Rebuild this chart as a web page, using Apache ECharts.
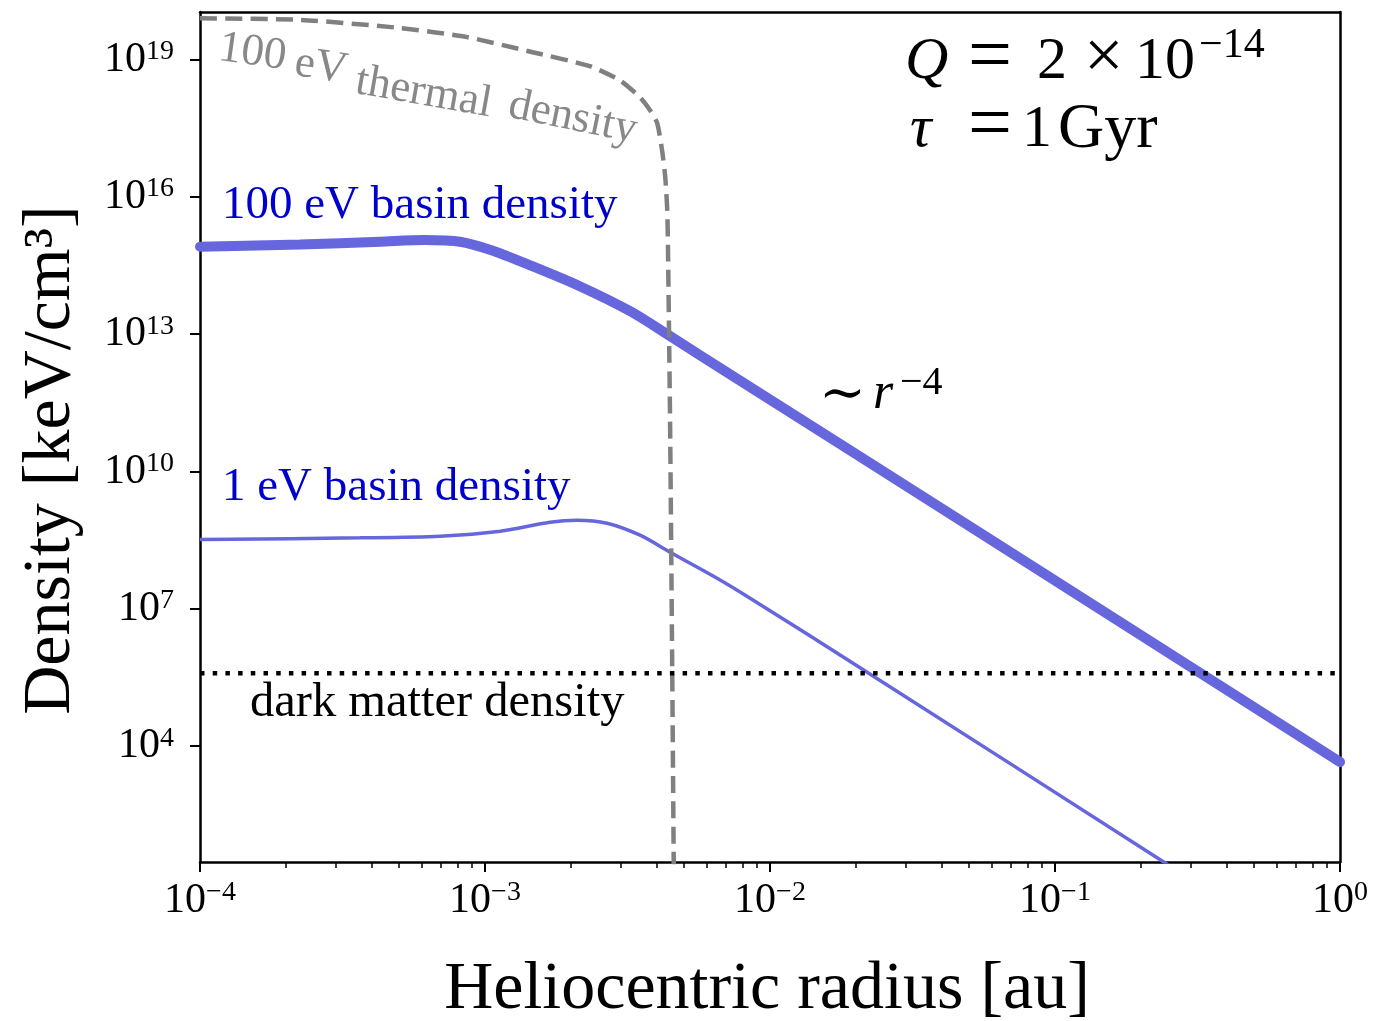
<!DOCTYPE html>
<html><head><meta charset="utf-8">
<script src="https://cdn.jsdelivr.net/npm/echarts@6/dist/echarts.min.js"></script>
<style>html,body{margin:0;padding:0;background:#fff}#c{width:1395px;height:1021px}</style>
</head><body><div id="c"></div>
<script>
// ---- data (radius in au, density in keV/cm^3) ----
const xTickExponents = [-4, -3, -2, -1, 0];
const yTickExponents = [4, 7, 10, 13, 16, 19];
const minorTickFactors = [2, 3, 4, 5, 6, 7, 8, 9];

const thermalRadius  = [1.0e-4, 2.24e-4, 5.04e-4, 8.65e-4, 1.47e-3, 2.33e-3, 2.98e-3, 3.50e-3, 3.79e-3, 4.02e-3, 4.18e-3, 4.29e-3, 4.36e-3, 4.39e-3, 4.46e-3, 4.53e-3, 4.60e-3];
const thermalDensity = [8.0e19, 7.4e19, 4.9e19, 3.1e19, 1.45e19, 7.2e18, 3.5e18, 1.5e18, 7.9e17, 4.1e17, 1.05e17, 2.7e16, 5.1e15, 4.8e14, 1.3e11, 2.1e6, 1.0e1];

const basin100Radius  = [1.0e-4, 2.24e-4, 4.28e-4, 6.15e-4, 8.17e-4, 1.04e-3, 1.44e-3, 2.15e-3, 3.23e-3, 4.36e-3, 5.68e-3, 6.41e-2, 1.0];
const basin100Density = [8.2e14, 9.1e14, 1.05e15, 1.14e15, 1.05e15, 7.0e14, 3.2e14, 1.12e14, 3.19e13, 1.0e13, 3.49e12, 2.43e8, 4.5e3];

const basin1Radius  = [1.0e-4, 3.64e-4, 6.95e-4, 1.13e-3, 1.69e-3, 2.10e-3, 2.68e-3, 3.50e-3, 4.46e-3, 6.52e-3, 8.30e-3, 2.22e-2, 0.2355, 0.264];
const basin1Density = [3.28e8, 3.56e8, 3.87e8, 4.98e8, 7.83e8, 8.67e8, 7.45e8, 4.07e8, 1.73e8, 4.68e7, 1.89e7, 3.94e5, 32.3, 20.5];

const darkMatterRadius = [1.0e-4, 1.0];
const darkMatterDensity = 3.94e5;

// ---- helpers ----
const L = Math.log10;
const toPts = (xs, ys) => xs.map((x, i) => [L(x), L(Array.isArray(ys) ? ys[i] : ys)]);
const minorTicks = [];
for (let e = -4; e < 0; e++) minorTickFactors.forEach(k => minorTicks.push(e + L(k)));

const FONT = '"Liberation Serif", "DejaVu Serif", serif';
const supFmt = v => { const e = Math.round(v); return '{b|10}{s|' + (e < 0 ? '\u2212' + (-e) : e) + '}'; };
const labelRich = {
  b: { fontSize: 42, fontFamily: FONT, color: '#000', lineHeight: 44 },
  s: { fontSize: 28, fontFamily: FONT, color: '#000', lineHeight: 26, verticalAlign: 'top' }
};

function txt(text, x, y, size, opts = {}) {
  return {
    type: 'text', x: x, y: y, rotation: opts.rot || 0, z: 100,
    style: {
      text: text, fill: opts.color || '#000',
      font: (opts.italic ? 'italic ' : '') + size + 'px ' + FONT,
      textAlign: opts.align || 'left', textVerticalAlign: 'middle',
      align: opts.align || 'left', verticalAlign: 'middle'
    }
  };
}
const deg = d => -d * Math.PI / 180;
const frameAxis = (pos) => ({
  type: 'value', min: pos === 'top' ? -4 : 1.47, max: pos === 'top' ? 0 : 20.04, position: pos,
  axisLine: { show: true, onZero: false, lineStyle: { color: '#000', width: 2.5 } },
  axisTick: { show: false }, axisLabel: { show: false }, splitLine: { show: false }
});

const chart = echarts.init(document.getElementById('c'), null, { renderer: 'canvas' });
chart.setOption({
  animation: false,
  backgroundColor: '#fff',
  grid: { left: 200, right: 55, top: 12, bottom: 159, show: false },
  xAxis: [{
    type: 'value', min: -4, max: 0, interval: 1, position: 'bottom',
    axisLine: { show: true, onZero: false, lineStyle: { color: '#000', width: 2.5 } },
    axisTick: { show: true, inside: false, length: 10, lineStyle: { color: '#000', width: 2 } },
    axisLabel: { show: true, margin: 17, formatter: supFmt, rich: labelRich },
    splitLine: { show: false }
  }, {
    type: 'value', min: -4, max: 0, position: 'bottom',
    axisLine: { show: false },
    axisTick: { show: true, inside: false, length: 6, customValues: minorTicks, lineStyle: { color: '#000', width: 1.5 } },
    axisLabel: { show: false },
    splitLine: { show: false }
  }, frameAxis('top')],
  yAxis: [{
    type: 'value', min: 1.47, max: 20.04, position: 'left',
    axisLine: { show: true, onZero: false, lineStyle: { color: '#000', width: 2.5 } },
    axisTick: { show: true, inside: false, length: 10, customValues: yTickExponents, lineStyle: { color: '#000', width: 2 } },
    axisLabel: { show: true, margin: 26, customValues: yTickExponents, formatter: supFmt, rich: labelRich, align: 'right' },
    splitLine: { show: false }
  }, frameAxis('right')],
  series: [{
    name: '100 eV basin density', type: 'line', showSymbol: false, smooth: 0.3,
    data: toPts(basin100Radius, basin100Density),
    lineStyle: { color: '#6666dd', width: 10, cap: 'round' }
  }, {
    name: '1 eV basin density', type: 'line', showSymbol: false, smooth: 0.3,
    data: toPts(basin1Radius, basin1Density),
    lineStyle: { color: '#6666dd', width: 3.5 }
  }, {
    name: '100 eV thermal density', type: 'line', showSymbol: false, smooth: 0.2,
    data: toPts(thermalRadius, thermalDensity),
    lineStyle: { color: '#808080', width: 4.5, type: [17, 8.3] }
  }, {
    name: 'dark matter density', type: 'line', showSymbol: false,
    data: toPts(darkMatterRadius, darkMatterDensity),
    lineStyle: { color: '#000', width: 4.5, type: [4.5, 8.2] }
  }],
  graphic: { elements: [
    // axis titles
    txt('Density [keV/cm\u00b3]', 51, 460, 68, { rot: Math.PI / 2, align: 'center' }),
    txt('Heliocentric radius [au]', 767, 990, 68, { align: 'center' }),
    // curve labels
    txt('100 eV basin density', 222, 206, 47, { color: '#0000cc' }),
    txt('1 eV basin density', 222, 488, 47, { color: '#0000cc' }),
    txt('dark matter density', 250, 703, 48.5),
    txt('100', 219, 48, 45, { color: '#888', rot: deg(8) }),
    txt('eV', 295, 63, 45, { color: '#888', rot: deg(9) }),
    txt('thermal', 356, 81, 45, { color: '#888', rot: deg(10) }),
    txt('density', 509, 105, 45, { color: '#888', rot: deg(11.5) }),
    // parameters
    txt('Q', 905, 62, 60, { italic: true }),
    txt('=', 968, 60, 78),
    txt('2', 1037, 62, 60),
    txt('\u00d7', 1084, 60, 70),
    txt('10', 1135, 62, 60),
    txt('\u221214', 1199, 46, 42),
    txt('\u03c4', 910, 130, 60, { italic: true }),
    txt('=', 968, 128, 78),
    txt('1', 1022, 130, 60),
    txt('Gyr', 1058, 130, 64),
    // slope
    txt('\u223c', 819, 396, 56),
    txt('r', 873, 394, 52, { italic: true }),
    txt('\u22124', 900, 383, 40)
  ] }
});
</script>
</body></html>
